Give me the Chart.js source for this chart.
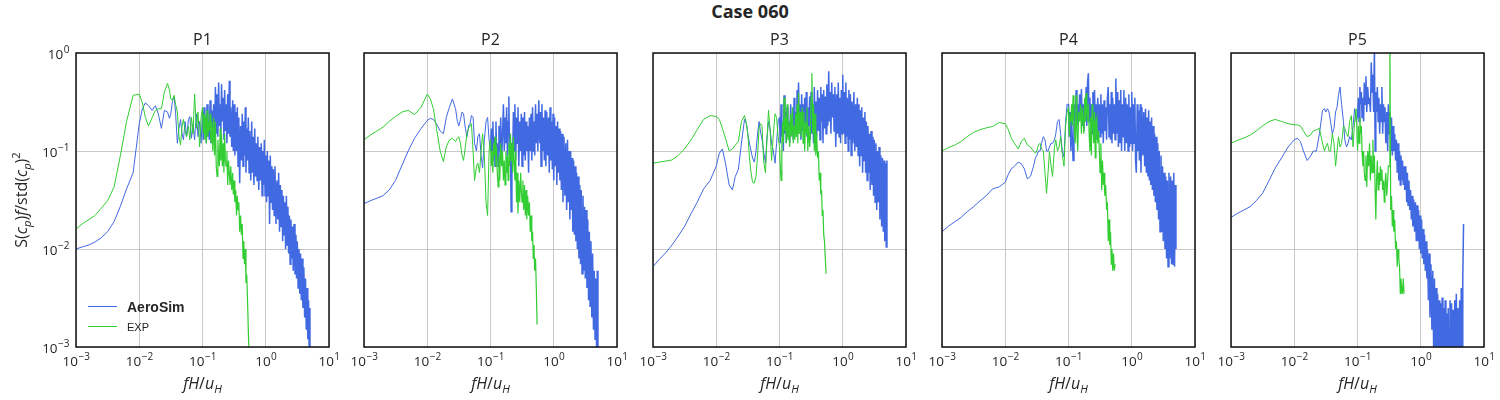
<!DOCTYPE html>
<html>
<head>
<meta charset="utf-8">
<script src="https://cdn.jsdelivr.net/npm/chart.js@4.4.1/dist/chart.umd.min.js"></script>
<style>
  body { margin: 0; background: #fff; width: 1500px; height: 400px; position: relative; overflow: hidden; }
  canvas { position: absolute; top: 0; }
  #suptitle { position: absolute; left: 0; top: -1px; width: 1500px; text-align: center;
    font: bold 18px "Open Sans"; line-height: 24px; color: #262626; }
</style>
</head>
<body>
<div id="suptitle">Case 060</div>
<script>
// shared frequency axis fH/u_H (coarse below 0.1, dense above)
const freqs = [
  0.001, 0.00125, 0.0016, 0.002, 0.0025, 0.00315, 0.004, 0.005, 0.0063, 0.008,
  0.01, 0.0112, 0.0125, 0.014, 0.016, 0.018, 0.02, 0.0224, 0.025, 0.028,
  0.030, 0.0315, 0.0335, 0.0355, 0.0375, 0.040, 0.0425, 0.045, 0.0475, 0.050,
  0.053, 0.056, 0.060, 0.063, 0.067, 0.071, 0.075, 0.080, 0.085, 0.090,
  0.095,
  0.100, 0.103, 0.106, 0.109, 0.112, 0.115, 0.118, 0.122, 0.125, 0.128,
  0.132, 0.136, 0.140, 0.145, 0.150, 0.155, 0.160, 0.165, 0.170, 0.175,
  0.180, 0.185, 0.190, 0.195, 0.200, 0.206, 0.212, 0.218, 0.224, 0.230,
  0.236, 0.243, 0.250, 0.258, 0.265, 0.272, 0.280, 0.290, 0.300, 0.307,
  0.315, 0.325, 0.335, 0.345, 0.355, 0.365, 0.375, 0.387, 0.400, 0.412,
  0.425, 0.437, 0.450, 0.462, 0.475, 0.487, 0.500, 0.515, 0.530, 0.545,
  0.560, 0.580, 0.600, 0.615, 0.630, 0.650, 0.670, 0.690, 0.710, 0.730,
  0.750, 0.775, 0.800, 0.825, 0.850, 0.875, 0.900, 0.925, 0.950, 0.975,
  1.00, 1.03, 1.06, 1.09, 1.12, 1.15, 1.18, 1.22, 1.25, 1.28,
  1.32, 1.36, 1.40, 1.45, 1.50, 1.55, 1.60, 1.65, 1.70, 1.75,
  1.80, 1.85, 1.90, 1.95, 2.00, 2.06, 2.12, 2.18, 2.24, 2.30,
  2.36, 2.43, 2.50, 2.58, 2.65, 2.72, 2.80, 2.90, 3.00, 3.07,
  3.15, 3.25, 3.35, 3.45, 3.55, 3.65, 3.75, 3.87, 4.00, 4.12,
  4.25, 4.37, 4.50, 4.62, 4.75, 4.87, 5.00
];

// S(cp)f/std(cp)^2 per frequency, AeroSim and EXP
const p1Aero = [
  0.010, 0.0105, 0.011, 0.0118, 0.013, 0.015, 0.019, 0.027, 0.041, 0.06,
  0.19, 0.27, 0.31, 0.29, 0.26, 0.29, 0.24, 0.17, 0.26, 0.25,
  0.215, 0.24, 0.32, 0.36, 0.25, 0.12, 0.17, 0.21, 0.15, 0.13,
  0.2, 0.14, 0.21, 0.225, 0.135, 0.19, 0.13, 0.24, 0.14, 0.2,
  0.12,
  0.25, 0.13, 0.28, 0.15, 0.22, 0.12, 0.3, 0.14, 0.2, 0.13,
  0.33, 0.12, 0.26, 0.17, 0.3, 0.13, 0.45, 0.15, 0.38, 0.14,
  0.5, 0.18, 0.3, 0.14, 0.48, 0.2, 0.35, 0.13, 0.42, 0.16,
  0.3, 0.12, 0.38, 0.15, 0.52, 0.14, 0.28, 0.11, 0.33, 0.1,
  0.3, 0.09, 0.25, 0.1, 0.28, 0.07, 0.22, 0.047, 0.18, 0.08,
  0.24, 0.07, 0.2, 0.09, 0.28, 0.06, 0.17, 0.08, 0.22, 0.06,
  0.16, 0.05, 0.2, 0.06, 0.14, 0.045, 0.17, 0.055, 0.12, 0.05,
  0.14, 0.04, 0.11, 0.05, 0.12, 0.035, 0.1, 0.045, 0.13, 0.035,
  0.09, 0.03, 0.1, 0.035, 0.08, 0.018, 0.09, 0.03, 0.07, 0.025,
  0.065, 0.022, 0.07, 0.018, 0.05, 0.02, 0.06, 0.015, 0.045, 0.017,
  0.04, 0.012, 0.035, 0.014, 0.03, 0.01, 0.035, 0.011, 0.027, 0.009,
  0.022, 0.007, 0.02, 0.008, 0.017, 0.006, 0.018, 0.0055, 0.014, 0.005,
  0.012, 0.004, 0.01, 0.0035, 0.009, 0.003, 0.008, 0.0025, 0.0065, 0.002,
  0.005, 0.0015, 0.004, 0.0012, 0.003, 0.0008, 0.0025
];
const p1Exp = [
  0.016, 0.018, 0.020, 0.022, 0.026, 0.031, 0.043, 0.088, 0.2, 0.37,
  0.38, 0.31, 0.22, 0.18, 0.22, 0.26, 0.27, 0.27, 0.40, 0.49,
  0.42, 0.34, 0.33, 0.37, 0.30, 0.25, 0.14, 0.115, 0.18, 0.21,
  0.16, 0.14, 0.18, 0.13, 0.22, 0.15, 0.38, 0.17, 0.25, 0.11,
  0.22,
  0.28, 0.15, 0.24, 0.13, 0.22, 0.12, 0.26, 0.14, 0.2, 0.16,
  0.24, 0.12, 0.2, 0.1, 0.22, 0.09, 0.2, 0.07, 0.055, 0.13,
  0.09, 0.07, 0.17, 0.08, 0.15, 0.07, 0.12, 0.06, 0.15, 0.08,
  0.07, 0.1, 0.045, 0.08, 0.06, 0.045, 0.07, 0.04, 0.06, 0.036,
  0.05, 0.03, 0.04, 0.022, 0.035, 0.025, 0.03, 0.015, 0.022, 0.014,
  0.018, 0.008, 0.012, 0.007, 0.01, 0.0045, 0.0055, 0.003, 0.0015, 0.0008
];
const p2Aero = [
  0.029, 0.031, 0.033, 0.035, 0.04, 0.05, 0.072, 0.1, 0.135, 0.17,
  0.205, 0.215, 0.21, 0.19, 0.16, 0.15, 0.22, 0.28, 0.34, 0.27,
  0.2, 0.18, 0.21, 0.25, 0.24, 0.17, 0.14, 0.18, 0.19, 0.23,
  0.22, 0.12, 0.1, 0.14, 0.15, 0.09, 0.067, 0.13, 0.2, 0.22,
  0.13,
  0.1, 0.17, 0.08, 0.2, 0.1, 0.14, 0.07, 0.2, 0.09, 0.12,
  0.07, 0.18, 0.1, 0.22, 0.08, 0.15, 0.3, 0.1, 0.22, 0.12,
  0.28, 0.09, 0.2, 0.36, 0.1, 0.15, 0.024, 0.12, 0.08, 0.25,
  0.1, 0.3, 0.08, 0.22, 0.12, 0.28, 0.07, 0.2, 0.1, 0.24,
  0.07, 0.22, 0.09, 0.25, 0.08, 0.2, 0.1, 0.18, 0.06, 0.22,
  0.1, 0.24, 0.08, 0.28, 0.1, 0.2, 0.09, 0.3, 0.12, 0.24,
  0.1, 0.33, 0.12, 0.25, 0.07, 0.3, 0.1, 0.22, 0.08, 0.26,
  0.07, 0.25, 0.09, 0.22, 0.06, 0.28, 0.08, 0.2, 0.065, 0.24,
  0.05, 0.22, 0.07, 0.18, 0.045, 0.2, 0.06, 0.17, 0.05, 0.16,
  0.04, 0.15, 0.03, 0.14, 0.035, 0.12, 0.025, 0.13, 0.03, 0.1,
  0.02, 0.1, 0.025, 0.085, 0.015, 0.08, 0.014, 0.07, 0.012, 0.06,
  0.01, 0.055, 0.008, 0.045, 0.007, 0.04, 0.0056, 0.035, 0.006, 0.027,
  0.005, 0.025, 0.004, 0.02, 0.003, 0.015, 0.0026, 0.012, 0.002, 0.009,
  0.0015, 0.006, 0.0012, 0.005, 0.001, 0.006, 0.0008
];
const p2Exp = [
  0.13, 0.145, 0.16, 0.175, 0.2, 0.225, 0.25, 0.26, 0.235, 0.28,
  0.38, 0.34, 0.27, 0.17, 0.1, 0.078, 0.11, 0.13, 0.135, 0.125,
  0.135, 0.14, 0.12, 0.09, 0.08, 0.11, 0.15, 0.17, 0.18, 0.19,
  0.1, 0.05, 0.07, 0.075, 0.06, 0.1, 0.15, 0.09, 0.03, 0.022,
  0.1,
  0.13, 0.07, 0.1, 0.06, 0.12, 0.09, 0.14, 0.07, 0.11, 0.06,
  0.043, 0.09, 0.05, 0.12, 0.07, 0.1, 0.05, 0.08, 0.045, 0.1,
  0.06, 0.09, 0.05, 0.12, 0.07, 0.15, 0.08, 0.12, 0.06, 0.14,
  0.08, 0.05, 0.1, 0.03, 0.06, 0.023, 0.05, 0.03, 0.06, 0.04,
  0.03, 0.05, 0.025, 0.045, 0.022, 0.04, 0.02, 0.035, 0.022, 0.03,
  0.015, 0.022, 0.012, 0.015, 0.008, 0.011, 0.006, 0.008, 0.004, 0.0017
];
const p3Aero = [
  0.0066, 0.0078, 0.0092, 0.011, 0.0135, 0.017, 0.023, 0.03, 0.041, 0.05,
  0.07, 0.095, 0.105, 0.075, 0.045, 0.04, 0.055, 0.065, 0.12, 0.21,
  0.19, 0.15, 0.12, 0.1, 0.085, 0.077, 0.1, 0.15, 0.2, 0.16,
  0.13, 0.1, 0.075, 0.13, 0.2, 0.17, 0.12, 0.1, 0.075, 0.12,
  0.2,
  0.22, 0.12, 0.3, 0.14, 0.2, 0.1, 0.37, 0.15, 0.25, 0.12,
  0.28, 0.14, 0.2, 0.12, 0.3, 0.15, 0.22, 0.13, 0.35, 0.16,
  0.25, 0.14, 0.42, 0.18, 0.5, 0.15, 0.3, 0.13, 0.38, 0.16,
  0.3, 0.12, 0.35, 0.16, 0.4, 0.14, 0.28, 0.18, 0.36, 0.13,
  0.4, 0.15, 0.3, 0.12, 0.45, 0.17, 0.32, 0.14, 0.42, 0.16,
  0.35, 0.13, 0.45, 0.2, 0.38, 0.12, 0.42, 0.17, 0.36, 0.15,
  0.48, 0.18, 0.65, 0.2, 0.4, 0.15, 0.5, 0.22, 0.38, 0.16,
  0.45, 0.11, 0.38, 0.15, 0.5, 0.14, 0.35, 0.12, 0.42, 0.15,
  0.6, 0.15, 0.4, 0.12, 0.5, 0.14, 0.35, 0.1, 0.42, 0.13,
  0.38, 0.09, 0.32, 0.12, 0.4, 0.1, 0.3, 0.11, 0.35, 0.09,
  0.3, 0.07, 0.26, 0.09, 0.28, 0.06, 0.22, 0.08, 0.25, 0.06,
  0.2, 0.05, 0.18, 0.06, 0.15, 0.04, 0.16, 0.045, 0.14, 0.035,
  0.13, 0.03, 0.12, 0.025, 0.1, 0.03, 0.11, 0.02, 0.09, 0.017,
  0.085, 0.015, 0.08, 0.012, 0.075, 0.0105, 0.08
];
const p3Exp = [
  0.075, 0.077, 0.079, 0.081, 0.09, 0.105, 0.13, 0.165, 0.21, 0.23,
  0.225, 0.21, 0.17, 0.135, 0.1, 0.105, 0.115, 0.125, 0.2, 0.23,
  0.19, 0.15, 0.085, 0.06, 0.048, 0.047, 0.055, 0.09, 0.17, 0.19,
  0.18, 0.08, 0.06, 0.12, 0.26, 0.16, 0.08, 0.15, 0.24, 0.22,
  0.14,
  0.11, 0.07, 0.05, 0.12, 0.2, 0.12, 0.35, 0.16, 0.22, 0.12,
  0.3, 0.13, 0.2, 0.11, 0.24, 0.14, 0.28, 0.12, 0.18, 0.13,
  0.24, 0.14, 0.3, 0.12, 0.39, 0.15, 0.25, 0.14, 0.2, 0.28,
  0.12, 0.25, 0.1, 0.2, 0.15, 0.28, 0.1, 0.18, 0.11, 0.14,
  0.35, 0.62, 0.15, 0.3, 0.1, 0.24, 0.09, 0.15, 0.085, 0.1,
  0.05, 0.06, 0.036, 0.04, 0.022, 0.025, 0.014, 0.012, 0.008, 0.0056
];
const p4Aero = [
  0.015, 0.017, 0.019, 0.021, 0.024, 0.027, 0.031, 0.035, 0.041, 0.043,
  0.048, 0.058, 0.066, 0.07, 0.077, 0.074, 0.066, 0.052, 0.055, 0.07,
  0.085, 0.09, 0.1, 0.1, 0.12, 0.14, 0.13, 0.1, 0.1, 0.11,
  0.12, 0.12, 0.13, 0.15, 0.2, 0.21, 0.15, 0.1, 0.087, 0.2,
  0.3,
  0.3, 0.14, 0.25, 0.1, 0.2, 0.14, 0.08, 0.18, 0.3, 0.2,
  0.42, 0.18, 0.3, 0.2, 0.38, 0.22, 0.43, 0.18, 0.3, 0.16,
  0.32, 0.2, 0.45, 0.18, 0.5, 0.62, 0.2, 0.35, 0.16, 0.3,
  0.15, 0.4, 0.2, 0.42, 0.18, 0.3, 0.13, 0.35, 0.16, 0.3,
  0.14, 0.38, 0.15, 0.3, 0.12, 0.33, 0.16, 0.28, 0.13, 0.35,
  0.45, 0.14, 0.3, 0.13, 0.4, 0.12, 0.35, 0.15, 0.3, 0.13,
  0.55, 0.15, 0.4, 0.11, 0.33, 0.12, 0.42, 0.1, 0.3, 0.14,
  0.42, 0.1, 0.35, 0.12, 0.3, 0.1, 0.38, 0.11, 0.28, 0.12,
  0.4, 0.1, 0.3, 0.12, 0.35, 0.08, 0.06, 0.3, 0.1, 0.26,
  0.08, 0.3, 0.06, 0.28, 0.09, 0.25, 0.07, 0.27, 0.06, 0.22,
  0.055, 0.26, 0.05, 0.2, 0.045, 0.22, 0.04, 0.18, 0.035, 0.15,
  0.03, 0.14, 0.025, 0.12, 0.02, 0.1, 0.015, 0.09, 0.015, 0.07,
  0.012, 0.06, 0.01, 0.055, 0.008, 0.05, 0.0066, 0.06, 0.008, 0.055,
  0.007, 0.05, 0.007, 0.06, 0.0066, 0.045, 0.01
];
const p4Exp = [
  0.1, 0.108, 0.115, 0.125, 0.14, 0.155, 0.165, 0.172, 0.178, 0.195,
  0.19, 0.165, 0.135, 0.12, 0.105, 0.125, 0.135, 0.115, 0.11, 0.1,
  0.095, 0.1, 0.115, 0.12, 0.105, 0.1, 0.06, 0.037, 0.06, 0.1,
  0.07, 0.055, 0.11, 0.13, 0.1, 0.11, 0.14, 0.09, 0.07, 0.18,
  0.25,
  0.28, 0.14, 0.22, 0.2, 0.3, 0.18, 0.37, 0.2, 0.15, 0.12,
  0.37, 0.15, 0.1, 0.25, 0.2, 0.3, 0.15, 0.28, 0.2, 0.15,
  0.35, 0.2, 0.39, 0.25, 0.2, 0.3, 0.15, 0.1, 0.22, 0.09,
  0.3, 0.2, 0.12, 0.25, 0.085, 0.2, 0.22, 0.12, 0.16, 0.1,
  0.06, 0.12, 0.04, 0.08, 0.045, 0.06, 0.035, 0.045, 0.025, 0.03,
  0.012, 0.02, 0.011, 0.015, 0.007, 0.01, 0.006, 0.009, 0.006, 0.007
];
const p5Aero = [
  0.021, 0.023, 0.025, 0.027, 0.031, 0.037, 0.05, 0.067, 0.085, 0.11,
  0.13, 0.135, 0.125, 0.1, 0.08, 0.088, 0.1, 0.1, 0.15, 0.26,
  0.27, 0.25, 0.27, 0.25, 0.2, 0.15, 0.17, 0.25, 0.28, 0.37,
  0.45, 0.3, 0.2, 0.13, 0.11, 0.12, 0.14, 0.13, 0.18, 0.27,
  0.2,
  0.22, 0.35, 0.2, 0.45, 0.3, 0.4, 0.22, 0.35, 0.2, 0.5,
  0.3, 0.58, 0.25, 0.45, 0.3, 0.35, 0.25, 0.8, 0.4, 0.6,
  0.25, 1.2, 0.1, 0.4, 0.25, 0.45, 0.2, 0.35, 0.15, 0.3,
  0.2, 0.45, 0.15, 0.3, 0.2, 0.28, 0.12, 0.25, 0.1, 0.3,
  0.15, 0.25, 0.1, 0.22, 0.09, 0.18, 0.1, 0.15, 0.08, 0.13,
  0.06, 0.12, 0.05, 0.1, 0.045, 0.09, 0.05, 0.08, 0.045, 0.07,
  0.04, 0.07, 0.03, 0.06, 0.028, 0.05, 0.025, 0.04, 0.02, 0.035,
  0.017, 0.032, 0.015, 0.03, 0.012, 0.028, 0.012, 0.025, 0.01, 0.022,
  0.009, 0.02, 0.008, 0.016, 0.007, 0.014, 0.006, 0.012, 0.005, 0.01,
  0.003, 0.009, 0.002, 0.007, 0.0015, 0.006, 0.0009, 0.005, 0.0007, 0.004,
  0.0006, 0.0035, 0.0007, 0.003, 0.0005, 0.0028, 0.0006, 0.0032, 0.0005, 0.0025,
  0.0006, 0.003, 0.0005, 0.0022, 0.0006, 0.0025, 0.0005, 0.003, 0.0006, 0.0028,
  0.0005, 0.0024, 0.0006, 0.003, 0.0005, 0.0035, 0.0006, 0.0025, 0.0005, 0.003,
  0.0006, 0.004, 0.0007, 0.005, 0.018
];
const p5Exp = [
  0.12, 0.128, 0.136, 0.145, 0.16, 0.18, 0.2, 0.21, 0.2, 0.19,
  0.185, 0.185, 0.18, 0.16, 0.14, 0.145, 0.16, 0.165, 0.17, 0.12,
  0.1, 0.11, 0.12, 0.1, 0.1, 0.15, 0.12, 0.07, 0.1, 0.14,
  0.11, 0.12, 0.18, 0.17, 0.15, 0.14, 0.2, 0.23, 0.11, 0.2,
  0.27,
  0.1, 0.18, 0.12, 0.22, 0.15, 0.18, 0.1, 0.07, 0.1, 0.06,
  0.05, 0.09, 0.043, 0.1, 0.07, 0.12, 0.05, 0.09, 0.06, 0.13,
  0.06, 0.09, 0.04, 0.02, 0.05, 0.08, 0.04, 0.06, 0.045, 0.07,
  0.05, 0.065, 0.04, 0.05, 0.03, 0.045, 0.06, 0.035, 0.05, 0.07,
  0.07, 1.5, 0.025, 0.035, 0.017, 0.025, 0.015, 0.02, 0.01, 0.012,
  0.0066, 0.01, 0.008, 0.0066, 0.0035, 0.005, 0.004, 0.0035, 0.005, 0.0035
];

const panelNames = ['P1', 'P2', 'P3', 'P4', 'P5'];
const aeroSeries = [p1Aero, p2Aero, p3Aero, p4Aero, p5Aero];
const expSeries = [p1Exp, p2Exp, p3Exp, p4Exp, p5Exp];
const xTicks = [1e-3, 1e-2, 1e-1, 1e0, 1e1];
const yTicks = [1e-3, 1e-2, 1e-1, 1e0];

// layout of the five panels (page pixels)
const plotLefts = [76, 364, 653, 942, 1231];
const plotW = 253, plotTop = 53, xAxisH = 53, padR = 14;
const textColor = '#262626';
const FONT = '"Open Sans"';

const toPoints = vals => vals.map((v, i) => ({ x: freqs[i], y: v }));
// the dense, noisy part of each spectrum reads a little heavier
const noisyWidth = (thin, thick) => ctx => (ctx.p0.parsed.x >= 0.1 ? thick : thin);

// draws "10" with a superscript exponent
function drawPow(ctx, e, x, baseY, align) {
  const base = '10', sup = e < 0 ? '\u2212' + (-e) : String(e);
  ctx.font = `13.5px ${FONT}`;
  const wb = ctx.measureText(base).width;
  ctx.font = `10px ${FONT}`;
  const ws = ctx.measureText(sup).width;
  const left = align === 'center' ? x - (wb + ws) / 2 : x - wb - ws;
  ctx.textAlign = 'left';
  ctx.textBaseline = 'alphabetic';
  ctx.font = `13.5px ${FONT}`;
  ctx.fillText(base, left, baseY);
  ctx.font = `10px ${FONT}`;
  ctx.fillText(sup, left + wb + 0.5, baseY - 6);
}

// draws a run of text pieces (italic / sub / sup) centred on cx
function drawRich(ctx, parts, cx, baseY, size) {
  const fontOf = p => `${p.it ? 'italic ' : ''}${p.sub || p.sup ? size * 0.7 : size}px ${FONT}`;
  let total = 0;
  parts.forEach(p => { ctx.font = fontOf(p); total += ctx.measureText(p.t).width; });
  let x = cx - total / 2;
  ctx.textAlign = 'left';
  ctx.textBaseline = 'alphabetic';
  parts.forEach(p => {
    ctx.font = fontOf(p);
    const dy = p.sub ? size * 0.25 : p.sup ? -size * 0.45 : 0;
    ctx.fillText(p.t, x, baseY + dy);
    x += ctx.measureText(p.t).width;
  });
}

const xLabel = [{ t: 'fH', it: true }, { t: '/' }, { t: 'u', it: true }, { t: 'H', it: true, sub: true }];
const yLabel = [
  { t: 'S(' }, { t: 'c', it: true }, { t: 'p', it: true, sub: true }, { t: ')' }, { t: 'f', it: true },
  { t: '/std(' }, { t: 'c', it: true }, { t: 'p', it: true, sub: true }, { t: ')' }, { t: '2', sup: true }
];

const decor = {
  id: 'decor',
  afterDraw(chart, args, opts) {
    const { ctx, chartArea: a, scales: { x, y } } = chart;
    ctx.save();
    ctx.strokeStyle = '#111';
    ctx.lineWidth = 1.5;
    ctx.strokeRect(a.left, a.top, a.right - a.left, a.bottom - a.top);
    ctx.fillStyle = textColor;
    xTicks.forEach(v => drawPow(ctx, Math.round(Math.log10(v)), x.getPixelForValue(v), a.bottom + 19, 'center'));
    const cx = (a.left + a.right) / 2;
    ctx.font = `16px ${FONT}`;
    ctx.textAlign = 'center';
    ctx.fillText(opts.name, cx, 45);
    drawRich(ctx, xLabel, cx, 388.5, 16);
    if (opts.first) {
      yTicks.forEach(v => drawPow(ctx, Math.round(Math.log10(v)), a.left - 7, y.getPixelForValue(v) + 6, 'right'));
      ctx.save();
      ctx.translate(27, (a.top + a.bottom) / 2);
      ctx.rotate(-Math.PI / 2);
      drawRich(ctx, yLabel, 0, 0, 16);
      ctx.restore();
      // legend
      ctx.lineWidth = 1;
      [['#4169e1', 306.5], ['#32cd32', 326.5]].forEach(([c, ly]) => {
        ctx.strokeStyle = c;
        ctx.beginPath(); ctx.moveTo(88, ly); ctx.lineTo(117, ly); ctx.stroke();
      });
      ctx.textAlign = 'left';
      ctx.font = 'bold 14px "Liberation Sans"';
      ctx.fillText('AeroSim', 127, 312);
      ctx.font = '11px "Liberation Sans"';
      ctx.fillText('EXP', 127, 330.5);
    }
    ctx.restore();
  }
};

panelNames.forEach((name, i) => {
  const padL = i === 0 ? 76 : 40;
  const canvas = document.createElement('canvas');
  canvas.width = padL + plotW + padR;
  canvas.height = 400;
  canvas.style.left = (plotLefts[i] - padL) + 'px';
  document.body.appendChild(canvas);

  new Chart(canvas, {
    type: 'line',
    data: {
      datasets: [
        { label: 'EXP', data: toPoints(expSeries[i]), borderColor: '#32cd32', order: 0,
          segment: { borderWidth: noisyWidth(1, 1.2) } },
        { label: 'AeroSim', data: toPoints(aeroSeries[i]), borderColor: '#4169e1', order: 1,
          segment: { borderWidth: noisyWidth(1, 1.5) } },
      ]
    },
    options: {
      responsive: false,
      animation: false,
      devicePixelRatio: 1,
      events: [],
      layout: { padding: { left: 0, right: padR, top: plotTop, bottom: 0 } },
      elements: { point: { radius: 0 }, line: { borderWidth: 1, tension: 0 } },
      plugins: {
        legend: { display: false },
        tooltip: { enabled: false },
        decor: { name, first: i === 0 },
      },
      scales: {
        x: {
          type: 'logarithmic', min: 1e-3, max: 10,
          afterBuildTicks: s => { s.ticks = xTicks.map(v => ({ value: v })); },
          afterFit: s => { s.height = xAxisH; },
          ticks: { display: false },
          grid: { color: '#c8c8c8', drawTicks: false },
          border: { display: false },
        },
        y: {
          type: 'logarithmic', min: 1e-3, max: 1,
          afterBuildTicks: s => { s.ticks = yTicks.map(v => ({ value: v })); },
          afterFit: s => { s.width = padL; },
          ticks: { display: false },
          grid: { color: '#c8c8c8', drawTicks: false },
          border: { display: false },
        }
      }
    },
    plugins: [decor]
  });
});
</script>
</body>
</html>
